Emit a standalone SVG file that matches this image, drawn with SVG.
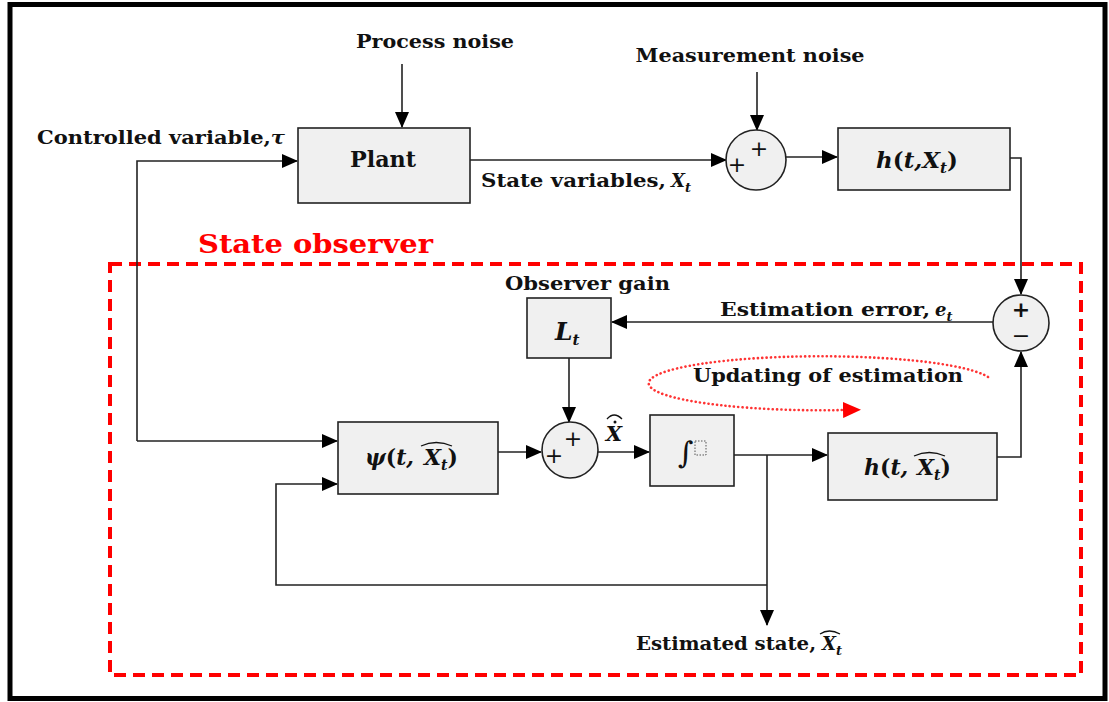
<svg xmlns="http://www.w3.org/2000/svg" width="1109" height="702" viewBox="0 0 1109 702">
<defs>
<marker id="ah" markerUnits="userSpaceOnUse" markerWidth="16" markerHeight="14" refX="15" refY="7" orient="auto"><path d="M0,0 L16,7 L0,14 Z" fill="#000"/></marker>
<marker id="ahr" markerUnits="userSpaceOnUse" markerWidth="18" markerHeight="16" refX="2" refY="8" orient="auto"><path d="M0,0 L18,8 L0,16 Z" fill="#ff0000"/></marker>
<style>
.box{fill:#f0f0f0;stroke:#222;stroke-width:1.6}
.sum{fill:#f0f0f0;stroke:#222;stroke-width:1.6}
.ln{fill:none;stroke:#222;stroke-width:1.6}
.t{font-family:"DejaVu Serif","Liberation Serif",serif;font-weight:bold;font-size:18px;fill:#111}
.m{font-family:"DejaVu Serif","Liberation Serif",serif;font-weight:bold;font-style:italic;font-size:22px;fill:#111}
.n{font-style:normal}
.pm{font-family:"DejaVu Sans","Liberation Sans",sans-serif;font-size:22px;fill:#111}
.hat{fill:none;stroke:#111;stroke-width:1.3}
</style>
</defs>
<rect x="10" y="4.5" width="1095" height="694" fill="#fff" stroke="#000" stroke-width="5"/>
<rect x="110" y="264" width="971" height="411" fill="none" stroke="#ff0000" stroke-width="4" stroke-dasharray="12 7"/>
<text x="198" y="253" font-family="DejaVu Serif, Liberation Serif, serif" font-weight="bold" font-size="26" fill="#ff0000" textLength="235" lengthAdjust="spacingAndGlyphs">State observer</text>

<g id="connectors">
<path class="ln" d="M402,64 V127" marker-end="url(#ah)"/>
<path class="ln" d="M757,72 V130" marker-end="url(#ah)"/>
<path class="ln" d="M137,441 V161 H297" marker-end="url(#ah)"/>
<path class="ln" d="M470,160 H726" marker-end="url(#ah)"/>
<path class="ln" d="M786,157 H837" marker-end="url(#ah)"/>
<path class="ln" d="M1010,158 H1021 V294" marker-end="url(#ah)"/>
<path class="ln" d="M993,322 H612" marker-end="url(#ah)"/>
<path class="ln" d="M569,358 V422" marker-end="url(#ah)"/>
<path class="ln" d="M137,441 H337" marker-end="url(#ah)"/>
<path class="ln" d="M498,452 H541" marker-end="url(#ah)"/>
<path class="ln" d="M598,452 H649" marker-end="url(#ah)"/>
<path class="ln" d="M734,455 H827" marker-end="url(#ah)"/>
<path class="ln" d="M997,457 H1021 V352" marker-end="url(#ah)"/>
<path class="ln" d="M767,455 V625" marker-end="url(#ah)"/>
<path class="ln" d="M767,585 H276 V484 H337" marker-end="url(#ah)"/>
<path d="M988,377 A172,27 0 1 0 845,410" fill="none" stroke="#ff3333" stroke-width="2.6" stroke-dasharray="0.1 4.2" stroke-linecap="round" marker-end="url(#ahr)"/>
</g>

<g id="process-noise"><text class="t" x="435" y="48" text-anchor="middle" textLength="158" lengthAdjust="spacingAndGlyphs">Process noise</text></g>
<g id="measurement-noise"><text class="t" x="750" y="62" text-anchor="middle" textLength="229" lengthAdjust="spacingAndGlyphs">Measurement noise</text></g>
<g id="controlled-variable"><text class="t" x="37" y="144" textLength="248" lengthAdjust="spacingAndGlyphs">Controlled variable,<tspan font-style="italic">τ</tspan></text></g>

<g id="plant">
<rect class="box" x="298" y="128" width="172" height="75"/>
<text class="t" x="383" y="167" text-anchor="middle" style="font-size:22px" textLength="66" lengthAdjust="spacingAndGlyphs">Plant</text>
</g>
<g id="state-variables"><text class="t" x="481" y="187" textLength="185" lengthAdjust="spacingAndGlyphs">State variables, </text><text class="t" x="671" y="187" font-style="italic">X<tspan style="font-size:13px" dy="5">t</tspan></text></g>

<g id="sum1">
<circle class="sum" cx="756" cy="160" r="30"/>
<text class="pm" x="759" y="156" text-anchor="middle">+</text>
<text class="pm" x="737" y="172" text-anchor="middle">+</text>
</g>

<g id="h-measure">
<rect class="box" x="838" y="128" width="172" height="62"/>
<text class="m" x="876" y="168" style="font-size:23px">h<tspan class="n">(</tspan>t,X<tspan style="font-size:15px" dy="5">t</tspan><tspan class="n" dy="-5">)</tspan></text>
</g>

<g id="sum2">
<circle class="sum" cx="1021" cy="323" r="28"/>
<text class="pm" x="1021" y="317" text-anchor="middle" font-weight="bold">+</text>
<text class="pm" x="1021" y="343" text-anchor="middle">−</text>
</g>

<g id="estimation-error"><text class="t" x="720" y="316" textLength="210" lengthAdjust="spacingAndGlyphs">Estimation error, </text><text class="t" x="935" y="316" font-style="italic">e<tspan style="font-size:13px" dy="5">t</tspan></text></g>
<g id="observer-gain-label"><text class="t" x="505" y="290" textLength="165" lengthAdjust="spacingAndGlyphs">Observer gain</text></g>

<g id="observer-gain">
<rect class="box" x="527" y="298" width="84" height="60"/>
<text class="m" x="555" y="340" style="font-size:25px">L<tspan style="font-size:15px" dy="5">t</tspan></text>
</g>

<g id="updating-label"><text class="t" x="693" y="382" textLength="270" lengthAdjust="spacingAndGlyphs">Updating of estimation</text></g>

<g id="psi">
<rect class="box" x="338" y="422" width="160" height="72"/>
<text class="m" x="365" y="465">ψ<tspan class="n">(</tspan>t, </text>
<text class="m" x="424" y="465">X<tspan style="font-size:14px" dy="5">t</tspan><tspan class="n" dy="-5">)</tspan></text>
<path class="hat" d="M421,446 Q436,439 452,446"/>
</g>

<g id="sum3">
<circle class="sum" cx="570" cy="450" r="28"/>
<text class="pm" x="573" y="446" text-anchor="middle">+</text>
<text class="pm" x="554" y="463" text-anchor="middle">+</text>
</g>

<g id="xdot-label">
<text class="m" x="614" y="441" text-anchor="middle" style="font-size:21px">X</text>
<circle cx="615" cy="422" r="1.5" fill="#111"/>
<path class="hat" d="M607,419 Q614,411 622,419"/>
</g>

<g id="integrator">
<rect class="box" x="650" y="415" width="84" height="71"/>
<text x="678" y="463" font-family="DejaVu Serif, serif" font-size="30" fill="#111">∫</text>
<rect x="695" y="441" width="11" height="14" fill="none" stroke="#555" stroke-width="1" stroke-dasharray="1.5 1.5"/>
</g>

<g id="h-estimate">
<rect class="box" x="828" y="433" width="169" height="67"/>
<text class="m" x="864" y="475">h<tspan class="n">(</tspan>t, </text>
<text class="m" x="917" y="475">X<tspan style="font-size:14px" dy="5">t</tspan><tspan class="n" dy="-5">)</tspan></text>
<path class="hat" d="M914,456 Q929,449 945,456"/>
</g>

<g id="estimated-state">
<text class="t" x="636" y="650" textLength="180" lengthAdjust="spacingAndGlyphs">Estimated state, </text>
<text class="t" x="822" y="650" font-style="italic">X<tspan style="font-size:13px" dy="5">t</tspan></text>
<path class="hat" d="M820,634 Q829,628 840,634"/>
</g>
</svg>
